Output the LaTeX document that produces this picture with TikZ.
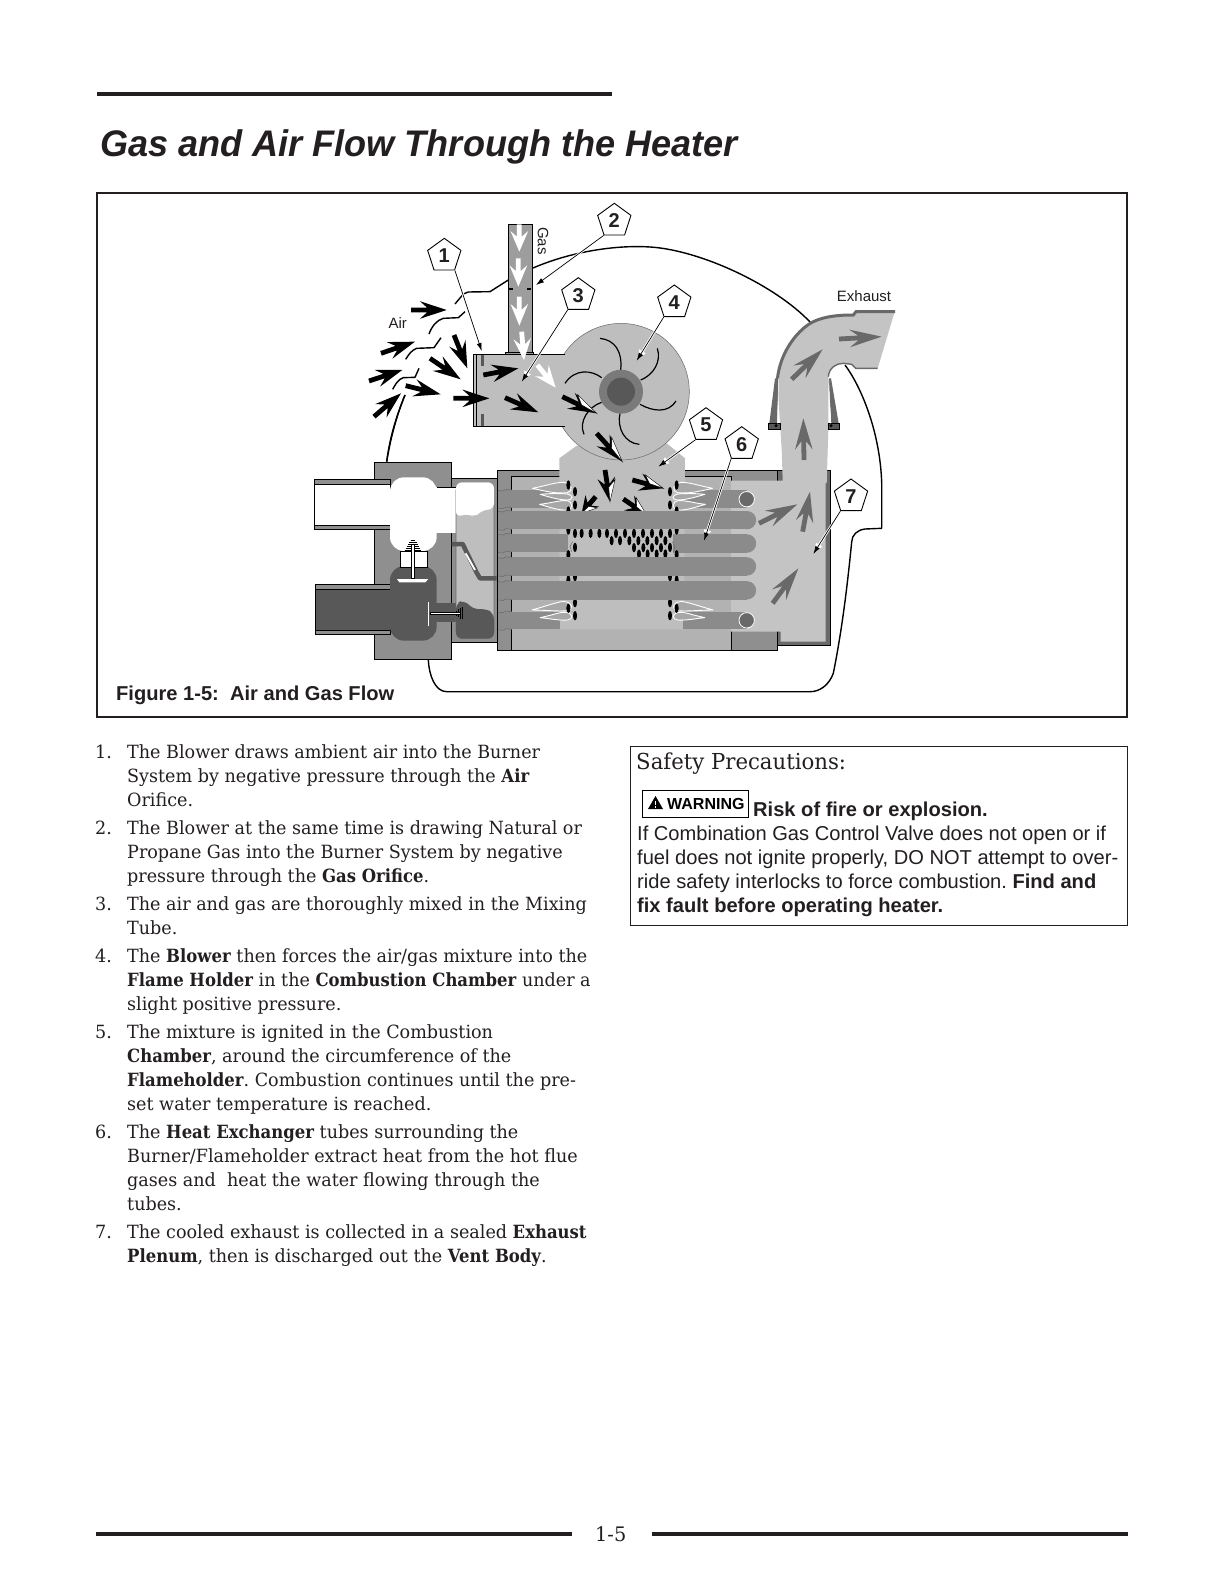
\documentclass[tikz,border=0pt]{standalone}
\usepackage{fontspec}
\usetikzlibrary{calc,shapes.geometric,arrows.meta}
\setmainfont{Liberation Sans}
\newfontfamily\bodyf[FakeStretch=0.965,BoldFeatures={FakeStretch=0.905}]{DejaVu Serif}
\newfontfamily\titlef[FakeStretch=0.975]{Liberation Sans}
\definecolor{ink}{HTML}{231F20}
\definecolor{gM}{HTML}{8F8F8F}
\definecolor{gT}{HTML}{8B8B8B}
\definecolor{gP}{HTML}{B2B2B2}
\definecolor{gL}{HTML}{BEBEBE}
\definecolor{gK}{HTML}{C4C4C4}
\definecolor{gD}{HTML}{585858}
\definecolor{gF}{HTML}{696969}
\newcommand{\fs}[1]{\fontsize{#1}{#1}\selectfont}
% flow arrow: tail, tip, colour
\newcommand{\farrow}[3]{%
  \coordinate (fA) at (#1);\coordinate (fB) at (#2);
  \fill[#3] (fB) -- ($(fA)!.25!(fB)!8.8pt!90:(fB)$) -- ($(fA)!.45!(fB)!2.4pt!90:(fB)$) -- ($(fA)!2.4pt!90:(fB)$)
    -- ($(fA)!2.4pt!-90:(fB)$) -- ($(fA)!.45!(fB)!2.4pt!-90:(fB)$) -- ($(fA)!.25!(fB)!8.8pt!-90:(fB)$) -- cycle;}
% black arrow with a white sliver in its head
\newcommand{\sarrow}[2]{%
  \farrow{#1}{#2}{black}
  \fill[white,draw=black,line width=.4pt] (fB) -- ($(fA)!.34!(fB)!8.5pt!90:(fB)$) -- ($(fA)!.55!(fB)!1pt!90:(fB)$) -- cycle;}
\newcommand{\leader}[2]{%
  \draw[leadcase] (#1) -- (#2);
  \draw[leadline] (#1) -- (#2);}
\newcommand{\tline}[4]{\node[body] (#1) at (#2,#3) {#4};}
\newcommand{\hole}[2]{\fill[black] (#1,#2) ellipse [x radius=6,y radius=14];}
\newcommand{\flameset}{%
 \begin{scope}[flamestyle]
  \path (157,115) .. controls (195,108) and (225,97) .. (250,97) .. controls (278,100) and (280,125) .. (262,128) .. controls (225,132) and (190,122) .. (157,115);
  \path (180,133) .. controls (210,130) and (240,130) .. (262,132) .. controls (280,135) and (280,150) .. (262,150) .. controls (235,150) and (205,140) .. (180,133);
  \path (178,163) .. controls (210,160) and (240,150) .. (260,152) .. controls (280,155) and (280,178) .. (262,180) .. controls (235,182) and (205,170) .. (178,163);
  \path (155,480) .. controls (195,470) and (240,452) .. (255,455) .. controls (280,458) and (280,480) .. (262,482) .. controls (235,485) and (195,480) .. (155,480);
  \path (180,503) .. controls (220,495) and (240,485) .. (258,487) .. controls (280,490) and (280,508) .. (262,510) .. controls (235,512) and (205,505) .. (180,503);
 \end{scope}}
\tikzset{
 x=1pt,y=-1pt,
 zA/.style={shift={(300,195)},x=0.33333pt,y=-0.33333pt},
 zB/.style={shift={(300,450)},x=0.33333pt,y=-0.33333pt},
 zC/.style={shift={(540,440)},x=0.33333pt,y=-0.33333pt},
 zD/.style={shift={(700,270)},x=0.33333pt,y=-0.33333pt},
 zE/.style={shift={(480,450)},x=0.33333pt,y=-0.33333pt},
 txt/.style={anchor=base west,inner sep=0pt,text=ink},
 body/.style={txt,yshift=.7pt,font=\bodyf\fs{18.2}\frenchspacing},
 sans/.style={txt,font=\fs{20.1}\frenchspacing},
 lab/.style={anchor=center,inner sep=0pt,text=ink,font=\fs{15}},
 callout/.style={regular polygon,regular polygon sides=5,minimum size=35pt,inner sep=0pt,draw=black,line width=.9pt,fill=white,font=\bfseries\fs{20},text=ink},
 leadcase/.style={white,line width=2.4pt,-{Latex[length=11pt,width=8pt]}},
 leadline/.style={black,line width=.7pt,-{Latex[length=8pt,width=5pt]}},
 shroud/.style={black,line width=1.4pt,line join=round},
 outl/.style={draw=black,line width=1pt},
 flamestyle/.style={every path/.style={draw=white,line width=.9pt,fill=gT!45!gL}},
}
\begin{document}
\begin{tikzpicture}
\useasboundingbox (0,0) rectangle (1224,1584);
\fill[white] (0,0) rectangle (1224,1584);
% page rules
\fill[ink] (97,92) rectangle (612,96.5);
\node[txt,font=\titlef\bfseries\itshape\fs{37}] (title) at (100,157) {Gas and Air Flow Through the Heater};
\draw[ink,line width=1.6pt] (97,193) rectangle (1127,717);
\fill[ink] (96,1532) rectangle (572,1536);
\fill[ink] (652,1532) rectangle (1128,1536);
\node[txt,font=\bodyf\fs{20}] (pageno) at (595,1541) {1-5};
% shroud
\draw[shroud] (386.7,461.7) .. controls (390,435) and (398,412) .. (405,395);
\draw[shroud] (533,268) .. controls (575,250) and (620,245) .. (650,247) .. controls (700,250) and (775,285) .. (810,322);
\draw[shroud] (845,365) .. controls (860,385) and (880,430) .. (881.7,483) -- (881.7,528.3) -- (865,529) .. controls (857,530) and (852,535) .. (851.7,541.7) .. controls (846,600) and (840,640) .. (833.3,673.3) .. controls (829,685) and (820,691.7) .. (810,691.7) -- (446.7,691.7) .. controls (435,691.7) and (429,675) .. (428.3,660);
\begin{scope}[zA]
 \draw[shroud] (465,327) -- (490,297) -- (505,291) -- (570,290) -- (625,255);
 \draw[shroud] (495,350) -- (475,368) -- (430,370) .. controls (410,375) and (395,395) .. (387,417);
 \draw[shroud] (423,428) -- (402,458) -- (350,460) .. controls (335,465) and (325,480) .. (317,493);
 \draw[shroud] (357,520) -- (345,547) -- (310,548) .. controls (295,552) and (285,570) .. (278,583);
\end{scope}
% heat exchanger casing
\draw[outl,fill=gF] (777,470) rectangle (830.7,645);
\draw[outl,fill=gM] (497.3,470.7) rectangle (777.3,650);
\draw[outl,fill=gP] (511.7,476.7) rectangle (731,650);
\draw[black,line width=.6pt] (731,632) -- (731,650);
% plenum and duct
\fill[gK] (731,480.7) -- (782.7,480.7) -- (781.7,450) -- (777.3,380) .. controls (780,350) and (800,328) .. (813.3,321.7) .. controls (825,316) and (840,315) .. (853.3,315) -- (856,310.7) -- (895,310.7) -- (877.7,368.3) -- (855.7,368.3) -- (851.7,364.3) -- (843.3,363.3) .. controls (836,363.3) and (829,368) .. (828.3,376.7) -- (828.3,430) -- (826.7,483) -- (825.7,483) -- (825.7,641.7) -- (780.7,641.7) -- (780.7,631.7) -- (731,631.7) -- cycle;
\draw[gF,line width=3pt] (777.3,380) .. controls (780,350) and (800,328) .. (813.3,321.7) .. controls (825,316) and (840,315) .. (853.3,315) -- (856,311.7) -- (895,311.7);
\draw[gF,line width=1.4pt] (828.3,376.7) .. controls (829,368) and (836,363.3) .. (843.3,363.3) -- (851.7,364.3) -- (855.7,368.3) -- (877.7,368.3);
\begin{scope}[zD]
 \fill[gF] (225,325) -- (235,325) -- (232,460) -- (208,460) -- cycle;
 \fill[gF] (385,325) -- (393,325) -- (416,460) -- (394,460) -- cycle;
 \fill[gD,draw=black,line width=.6pt] (205,460) rectangle (240,478);
 \fill[gD,draw=black,line width=.6pt] (385,460) rectangle (418,478);
 \fill[black] (228,467) circle (5);
 \fill[black] (393,467) circle (5);
 \draw[white,line width=.5pt] (236,325) -- (232,460);
 \draw[white,line width=.5pt] (386,325) -- (392,460);
\end{scope}
% burner body
\fill[gL] (559.3,629.3) -- (559.3,458.3) -- (576.7,445.7) -- (666.7,443.3) -- (685,458.3) -- (684,629.3) -- cycle;
% short and half tubes
\fill[gT] (493.3,490) rectangle (560,507.7);
\fill[gT] (493.3,611.7) rectangle (560,629.3);
\fill[gT] (683,490) rectangle (747,508.3);
\fill[gT] (683,611.7) rectangle (747,629.3);
\fill[gT] (493.3,534) rectangle (568,552);
\fill[gT] (673,534.3) rectangle (747,552.7);
\fill[gT] (747,543.5) circle (9.2);
\begin{scope}[zE]
 \flameset
 \begin{scope}[shift={(855,0)},xscale=-1]\flameset\end{scope}
 \foreach \hx/\hy in {265/105,285/125,285/165,265/183,590/105,570/125,570/165,590/183,
   265/240,590/240,285/250,305/250,332/250,358/250,381/250,408/250,435/250,462/250,489/250,516/250,543/250,570/250,
   395/272,420/272,448/272,475/272,502/272,530/272,556/272,
   285/292,570/292,462/293,490/293,516/293,543/293,
   265/314,590/314,477/312,503/312,530/312,556/312,
   285/380,265/390,570/380,590/390,285/458,265/475,285/497,570/458,590/475,570/497}{\hole{\hx}{\hy}}
 \draw[gF,line width=.5pt] (278,275) -- (270,290) -- (275,305);
 \draw[gF,line width=.5pt] (577,275) -- (584,290) -- (580,305);
 % arrows inside the burner, partly behind the tubes
 \sarrow{347,140}{305,190}
 \sarrow{430,147}{500,195}
 \sarrow{375,60}{390,155}
 \sarrow{457,90}{550,115}
\end{scope}
% full tubes
\foreach \ya/\yb in {511/529.3,557.3/575.5,581.2/599.5}{
 \fill[gT] (493.3,\ya) rectangle (747,\yb);
 \fill[gT] (747,{(\ya+\yb)/2}) circle (9.15);}
% tube fins at the header
\foreach \fy in {490,507.7,511,529.3,534,552,557.3,575.5,581.2,599.5,611.7,629.3}{
 \draw[gF,line width=.5pt] (494,\fy) -- (503,{\fy+1}) -- (506,{\fy-.6}) -- (512,\fy);}
\foreach \cy in {499.2,620.3}{
 \fill[gF,draw=white,line width=.8pt] (746.7,\cy) circle (7.7);}
% flow arrows in plenum and duct
\begin{scope}[zC]
 \farrow{657,250}{772,193}{gF}
 \farrow{788,275}{810,155}{gF}
 \farrow{698,490}{775,385}{gF}
\end{scope}
\begin{scope}[zD]
 \farrow{275,328}{368,238}{gF}
 \farrow{312,570}{310,445}{gF}
 \farrow{417,207}{545,200}{gF}
\end{scope}
% valve bodies
\begin{scope}[zB]
 \draw[outl,fill=gM] (223,38) rectangle (455,628);
 \draw[outl,fill=gM] (455,85) rectangle (592,577);
 \draw[outl,fill=gM] (44,88) rectangle (272,238);
 \draw[outl,fill=white] (44,103) rectangle (272,225);
 \fill[white] (408,112) rectangle (472,248);
 \draw[black,line width=1pt] (410,112) -- (470,112);
 \fill[white,rounded corners=14] (270,82) rectangle (410,303);
 \draw[outl,fill=gM] (47,404) rectangle (272,552);
 \draw[outl,fill=gD] (47,418) rectangle (272,540);
 \fill[gD,rounded corners=14] (270,348) rectangle (410,572);
 \fill[gD] (405,460) rectangle (470,515);
 \draw[outl,fill=white,line width=.8pt] (302,305) rectangle (382,352);
 \draw[gF,line width=.6pt,fill=gL,rounded corners=8] (468,97) rectangle (582,566);
 \fill[white,rounded corners=6] (468,202) -- (468,97) -- (582,97) -- (582,178) -- (545,180) -- (525,203) -- (505,190) -- cycle;
 \fill[gD,rounded corners=6] (468,460) -- (490,450) -- (525,480) -- (555,475) -- (582,490) -- (582,566) -- (468,566) -- cycle;
 % linkage
 \draw[gD,line width=4.5pt,line join=round] (455,282) -- (488,282) -- (530,368) -- (540,385) -- (590,385);
 \draw[white,line width=1.8pt] (497,310) -- (525,360);
 % springs
 \foreach \sy/\sw in {270/10,276/16,282/22,288/27,294/32,300/36}{
  \draw[black,line width=.7pt] ({339-\sw*.7},\sy) -- ({339+\sw*.7},\sy);}
 \foreach \sx/\sw in {470/8,476/12,482/16,488/18}{
  \draw[black,line width=.7pt] (\sx,{490-\sw}) -- (\sx,{490+\sw});}
 % stems
 \draw[fill=white,draw=black,line width=.5pt] (335,283) rectangle (343,385);
 \fill[white] (291,387) -- (385,387) -- (376,397) -- (298,397) -- cycle;
 \fill[white] (383,455) rectangle (388,527);
 \draw[fill=white,draw=black,line width=.5pt] (390,487) rectangle (482,494);
\end{scope}
% blower and mixing tube
\fill[gL,draw=gF,line width=.5pt] (621,391.7) circle (68.3);
\begin{scope}[zA]
 \fill[gL] (520,478) rectangle (795,694);
 \draw[black,line width=1pt] (795,478) -- (520,478) -- (520,694) -- (795,694);
 \draw[black,line width=.7pt] (529,478) -- (529,694);
 \fill[gD] (543,480) rectangle (552,512);
 \fill[gD] (543,658) rectangle (552,692);
 \draw[outl,fill=gM!70!gL] (626,88) rectangle (698,478);
 \draw[outl,fill=gM!70!gL,line width=.8pt] (617,472) rectangle (701,478);
 \fill[black] (627,280) rectangle (639,285);
 \fill[black] (681,280) rectangle (693,285);
 % blades
 \draw[black,line width=1.2pt] (900,430) .. controls (945,435) and (968,470) .. (962,525);
 \draw[black,line width=1.2pt] (1072,460) .. controls (1085,500) and (1060,540) .. (1022,555);
 \draw[black,line width=1.2pt] (1128,618) .. controls (1105,655) and (1060,650) .. (1020,628);
 \draw[black,line width=1.2pt] (1018,748) .. controls (975,745) and (950,700) .. (960,655);
 \draw[black,line width=1.2pt] (852,718) .. controls (835,680) and (865,635) .. (905,622);
 \draw[black,line width=1.2pt] (795,565) .. controls (825,520) and (875,525) .. (905,548);
 \fill[gM!85!black] (963,590) circle (66);
 \fill[gD] (963,590) circle (42);
 % flow arrows
 \farrow{333,345}{440,345}{black}
 \farrow{243,475}{345,440}{black}
 \farrow{207,558}{307,525}{black}
 \farrow{222,665}{303,595}{black}
 \farrow{317,572}{422,598}{black}
 \farrow{390,490}{482,553}{black}
 \farrow{462,420}{502,520}{black}
 \farrow{460,610}{568,610}{black}
 \farrow{550,540}{655,520}{black}
 \farrow{615,608}{715,652}{black}
 \sarrow{787,605}{890,655}
 \sarrow{890,715}{967,800}
 \farrow{658,88}{658,170}{white}
 \farrow{655,190}{655,275}{white}
 \farrow{658,305}{658,392}{white}
 \farrow{665,410}{672,495}{white}
 \farrow{712,510}{767,578}{white}
 \draw[shroud] (315,600) .. controls (295,650) and (275,710) .. (260,800);
\end{scope}
% labels
\node[lab,rotate=-90] (gas) at (543,241) {Gas};
\node[lab] (air) at (397.7,323) {Air};
\node[lab] (exh) at (864,296) {Exhaust};
\node[txt,font=\bfseries\fs{20.1}] (cap) at (116,700) {Figure 1-5:\ \ Air and Gas Flow};
% callouts
\node[callout] (p1) at (444.3,255.8) {1};
\node[callout] (p2) at (614.3,220.8) {2};
\node[callout] (p3) at (578.3,295.2) {3};
\node[callout] (p4) at (674.3,302.5) {4};
\node[callout] (p5) at (706,425.2) {5};
\node[callout] (p6) at (741.7,444.2) {6};
\node[callout] (p7) at (851,496.5) {7};
\coordinate (t1) at (481.7,351);
\coordinate (t2) at (536,285);
\coordinate (t3) at (521.7,381.7);
\coordinate (t4) at (636.7,360.7);
\coordinate (t5) at (658.3,466.7);
\coordinate (t6) at (704,540.7);
\coordinate (t7) at (813.3,554);
\leader{p1.corner 4}{t1}
\leader{p2.corner 3}{t2}
\leader{p3.corner 3}{t3}
\leader{p4.corner 3}{t4}
\leader{p5.corner 3}{t5}
\leader{p6.corner 3}{t6}
\leader{p7.corner 3}{t7}
% numbered text
\node[body] (n1) at (95,759) {1.};
\tline{a1}{127}{759}{The Blower draws ambient air into the Burner}
\tline{a2}{127}{783}{System by negative pressure through the \textbf{Air}}
\tline{a3}{127}{807}{Orifice.}
\node[body] (n2) at (95,835) {2.};
\tline{b1}{127}{835}{The Blower at the same time is drawing Natural or}
\tline{b2}{127}{859}{Propane Gas into the Burner System by negative}
\tline{b3}{127}{883}{pressure through the \textbf{Gas Orifice}.}
\node[body] (n3) at (95,911) {3.};
\tline{c1}{127}{911}{The air and gas are thoroughly mixed in the Mixing}
\tline{c2}{127}{935}{Tube.}
\node[body] (n4) at (95,963) {4.};
\tline{d1}{127}{963}{The \textbf{Blower} then forces the air/gas mixture into the}
\tline{d2}{127}{987}{\textbf{Flame Holder} in the \textbf{Combustion Chamber} under a}
\tline{d3}{127}{1011}{slight positive pressure.}
\node[body] (n5) at (95,1039) {5.};
\tline{e1}{127}{1039}{The mixture is ignited in the Combustion}
\tline{e2}{127}{1063}{\textbf{Chamber}, around the circumference of the}
\tline{e3}{127}{1087}{\textbf{Flameholder}. Combustion continues until the pre-}
\tline{e4}{127}{1111}{set water temperature is reached.}
\node[body] (n6) at (95,1139) {6.};
\tline{f1}{127}{1139}{The \textbf{Heat Exchanger} tubes surrounding the}
\tline{f2}{127}{1163}{Burner/Flameholder extract heat from the hot flue}
\tline{f3}{127}{1187}{gases and\ \ heat the water flowing through the}
\tline{f4}{127}{1211}{tubes.}
\node[body] (n7) at (95,1239) {7.};
\tline{g1}{127}{1239}{The cooled exhaust is collected in a sealed \textbf{Exhaust}}
\tline{g2}{127}{1263}{\textbf{Plenum}, then is discharged out the \textbf{Vent Body}.}
% safety box
\draw[ink,line width=1pt] (630,746) rectangle (1127,925);
\node[txt,font=\bodyf\fs{22}] (sp) at (636,769) {Safety Precautions:};
\node[draw=black,line width=.9pt,minimum width=106pt,minimum height=27pt,inner sep=0pt] (wb) at (695,803.5) {};
\fill[black] (648,809) -- (663,809) -- (655.5,796) -- cycle;
\fill[white] (654.8,800.5) rectangle (656.2,805);
\fill[white] (654.8,806) rectangle (656.2,807.5);
\node[txt,font=\bfseries\fs{16},text=black] (wt) at (667,809) {WARNING};
\node[txt,font=\bfseries\fs{20.1}] (r0) at (753,816) {Risk of fire or explosion.};
\node[sans] (r1) at (637,840) {If Combination Gas Control Valve does not open or if};
\node[sans] (r2) at (637,864) {fuel does not ignite properly, DO NOT attempt to over-};
\node[sans] (r3) at (637,888) {ride safety interlocks to force combustion. \textbf{Find and}};
\node[sans] (r4) at (637,912) {\textbf{fix fault before operating heater.}};
\end{tikzpicture}
\end{document}
